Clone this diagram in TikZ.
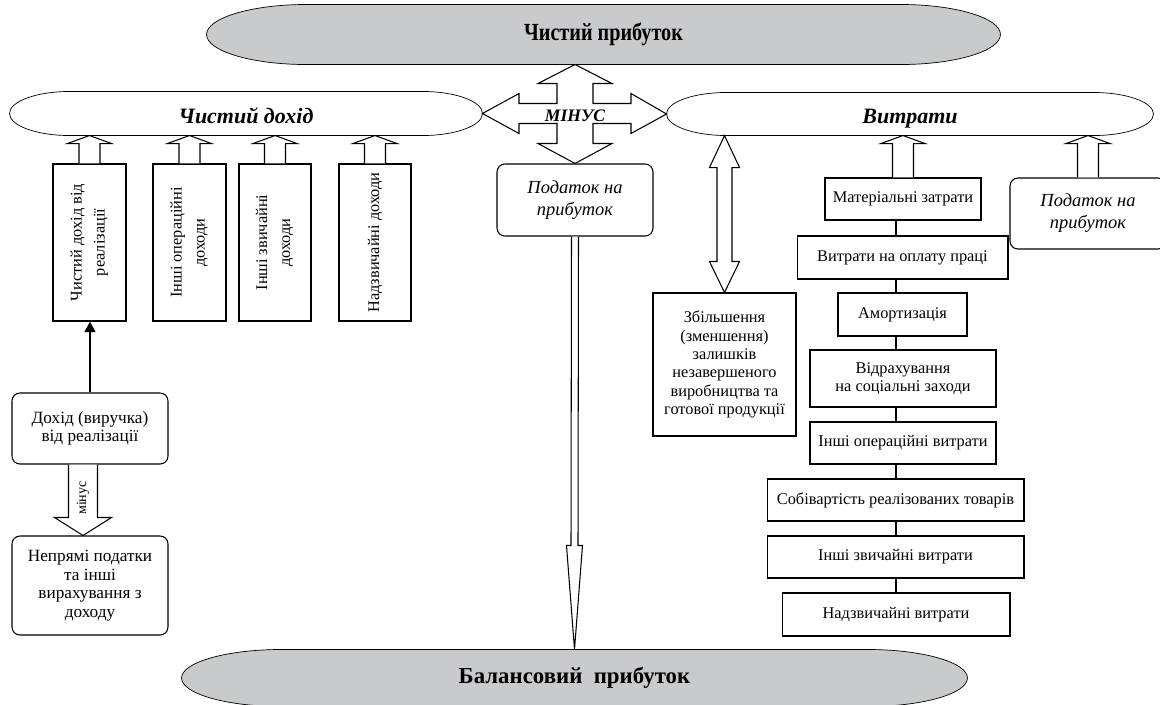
\documentclass[tikz,border=0pt]{standalone}
\usepackage{fontspec}
\setmainfont{Liberation Serif}
\usepackage{xcolor}
\usetikzlibrary{calc,backgrounds,arrows.meta}
\definecolor{pillgray}{RGB}{201,202,204}

\begin{document}
\begin{tikzpicture}[x=0.02cm, y=-0.02cm, line width=0.6pt,
    box/.style={draw, inner sep=0pt, align=center, font=\fontsize{9.3}{10.4}\selectfont},
    rbox/.style={box, rounded corners=4.5pt},
    pill/.style={inner sep=0pt},
    hollow/.style={draw, fill=white, line join=miter}]
    \useasboundingbox (0,0) rectangle (1160,704);

    \node[pill, minimum width=15.86cm, minimum height=1.18cm, font=\fontsize{14}{16}\selectfont\bfseries] (np) at (603.5,34.5) {\scalebox{0.82}[1]{Чистий прибуток}};
    \node[pill, minimum width=9.44cm, minimum height=0.86cm, text height=11pt, text depth=0pt, font=\fontsize{12.5}{14}\selectfont\bfseries\itshape] (dohid) at (246,113.5) {Чистий дохід};
    \node[pill, minimum width=9.72cm, minimum height=0.84cm, text height=11pt, text depth=0pt, font=\fontsize{12.5}{14}\selectfont\bfseries\itshape] (vytr) at (910,114) {Витрати};
    \node[pill, minimum width=15.7cm, minimum height=1.12cm, font=\fontsize{13}{15}\selectfont\bfseries] (bp) at (574.5,678) {Балансовий\ \ прибуток};

    \node[rbox, minimum width=3.12cm, minimum height=1.44cm, font=\fontsize{10.5}{12.5}\selectfont\itshape] (podatok) at (575,200) {Податок на\\прибуток};
    \node[rbox, minimum width=3.12cm, minimum height=1.42cm, font=\fontsize{10.5}{12.5}\selectfont\itshape] (pod2) at (1088,213.5) {Податок на\\прибуток};

    \node[box, minimum width=1.46cm, minimum height=3.14cm] (d1) at (89.5,242.5) {\rotatebox{90}{\begin{tabular}{@{}c@{}}Чистий дохід від\\[2.6pt]реалізації\end{tabular}}};
    \node[box, minimum width=1.46cm, minimum height=3.14cm] (d2) at (189.5,242.5) {\rotatebox{90}{\begin{tabular}{@{}c@{}}Інші операційні\\[2.6pt]доходи\end{tabular}}};
    \node[box, minimum width=1.44cm, minimum height=3.14cm] (d3) at (275,242.5) {\rotatebox{90}{\begin{tabular}{@{}c@{}}Інші звичайні\\[2.6pt]доходи\end{tabular}}};
    \node[box, minimum width=1.44cm, minimum height=3.14cm] (d4) at (375,242.5) {\rotatebox{90}{Надзвичайні доходи}};

    \node[rbox, minimum width=3.12cm, minimum height=1.42cm, font=\fontsize{9.8}{10.6}\selectfont] (dohod) at (90,428.5) {Дохід (виручка)\\від реалізації};
    \node[rbox, minimum width=3.12cm, minimum height=1.98cm, font=\fontsize{9.8}{10.6}\selectfont] (nepr) at (90,585.5) {Непрямі податки\\та інші\\вирахування з\\доходу};

    \node[box, minimum width=2.86cm, minimum height=2.86cm] (zbil) at (724.5,364.5) {Збільшення\\(зменшення)\\залишків\\незавершеного\\виробництва та\\готової продукції};

    \node[box, minimum width=3.12cm, minimum height=0.84cm] (mat) at (903,199) {Матеріальні затрати};
    \node[box, minimum width=4.22cm, minimum height=0.86cm] (opl) at (902.5,257.5) {Витрати на оплату праці};
    \node[box, minimum width=2.58cm, minimum height=0.86cm] (amort) at (902.5,314.5) {Амортизація};
    \node[box, minimum width=3.72cm, minimum height=1.14cm] (vidr) at (903,378.5) {Відрахування\\на соціальні заходи};
    \node[box, minimum width=3.72cm, minimum height=0.84cm] (inop) at (903,443) {Інші операційні витрати};
    \node[box, minimum width=5.14cm, minimum height=0.84cm] (sobiv) at (895.5,500) {Собівартість реалізованих товарів};
    \node[box, minimum width=5.14cm, minimum height=0.84cm] (inzv) at (895.5,557) {Інші звичайні витрати};
    \node[box, minimum width=4.56cm, minimum height=0.86cm] (nadzv) at (896,614.5) {Надзвичайні витрати};

    \begin{scope}[on background layer]
        \foreach \nm/\rx/\fc in {np/100/pillgray, dohid/60/white, vytr/60/white, bp/100/pillgray}
            \draw[fill=\fc] ($(\nm.north west)+(\rx,0)$) -- ($(\nm.north east)+(-\rx,0)$)
                .. controls ($(\nm.north east)+(-0.45*\rx,0)$) and ($(\nm.east)!0.55!(\nm.north east)$) .. (\nm.east)
                .. controls ($(\nm.east)!0.55!(\nm.south east)$) and ($(\nm.south east)+(-0.45*\rx,0)$) .. ($(\nm.south east)+(-\rx,0)$)
                -- ($(\nm.south west)+(\rx,0)$)
                .. controls ($(\nm.south west)+(0.45*\rx,0)$) and ($(\nm.west)!0.55!(\nm.south west)$) .. (\nm.west)
                .. controls ($(\nm.west)!0.55!(\nm.north west)$) and ($(\nm.north west)+(0.45*\rx,0)$) .. cycle;
    \end{scope}

    \coordinate (minus) at (podatok.north |- dohid.east);
    \begin{scope}[shift={(minus)}]
        \draw[hollow] (minus |- np.south) -- (37,-30) -- (18,-30) -- (18,-10) -- (56,-10) -- (56,-20) -- (vytr.west)
            -- (56,20) -- (56,10) -- (18,10) -- (18,30) -- (37,30) -- (podatok.north)
            -- (-37,30) -- (-18,30) -- (-18,10) -- (-56,10) -- (-56,20) -- (dohid.east)
            -- (-56,-20) -- (-56,-10) -- (-18,-10) -- (-18,-30) -- (-37,-30) -- cycle;
    \end{scope}
    \node[font=\fontsize{10}{12}\selectfont\bfseries\itshape] (minustext) at ($(minus)+(0,2)$) {МІНУС};

    \draw[hollow] ($(podatok.south)+(-3.5,0)$) -- ($(bp.north)+(-3.5,-104)$) -- ++(-4.5,0) -- (bp.north)
        -- ($(bp.north)+(8,-104)$) -- ++(-4.5,0) -- ($(podatok.south)+(3.5,0)$);

    \foreach \src/\dst in {d1/dohid, d2/dohid, d3/dohid, d4/dohid, mat/vytr, pod2/vytr}
        \draw[hollow] ($(\src.north)+(-10.5,0)$) -- ($(\src.north |- \dst.south)+(-10.5,8)$) -- ++(-11.5,0)
            -- (\src.north |- \dst.south) -- ++(22,8) -- ++(-11.5,0) -- ($(\src.north)+(10.5,0)$);

    \draw[hollow] (zbil.north |- vytr.south) -- ++(15,32) -- ++(-7.5,0) -- ($(zbil.north)+(7.5,-31)$) -- ++(7.5,0)
        -- (zbil.north) -- ++(-15,-31) -- ++(7.5,0) -- ($(zbil.north |- vytr.south)+(-7.5,32)$) -- ++(-7.5,0) -- cycle;

    \draw[line width=1.5pt, -{Triangle[length=6pt,width=6pt]}] (dohod.north) -- (dohod.north |- d1.south);

    \draw[hollow] ($(dohod.south)+(-21.5,0)$) -- ($(nepr.north)+(-21.5,-18)$) -- ++(-14,0) -- ($(nepr.north)+(-7,0)$)
        -- ($(nepr.north)+(21.5,-18)$) -- ++(-14,0) -- ($(dohod.south)+(7.5,0)$);
    \node[font=\fontsize{8}{9}\selectfont, rotate=90] (minus2) at ($(dohod.south)!0.5!(nepr.north)+(-7,-2)$) {мінус};

    \coordinate (col) at (896,0);
    \foreach \src/\dst in {mat/opl, opl/amort, amort/vidr, vidr/inop, inop/sobiv, sobiv/inzv, inzv/nadzv}
        \draw (\src.south -| col) -- (\dst.north -| col);
\end{tikzpicture}
\end{document}
